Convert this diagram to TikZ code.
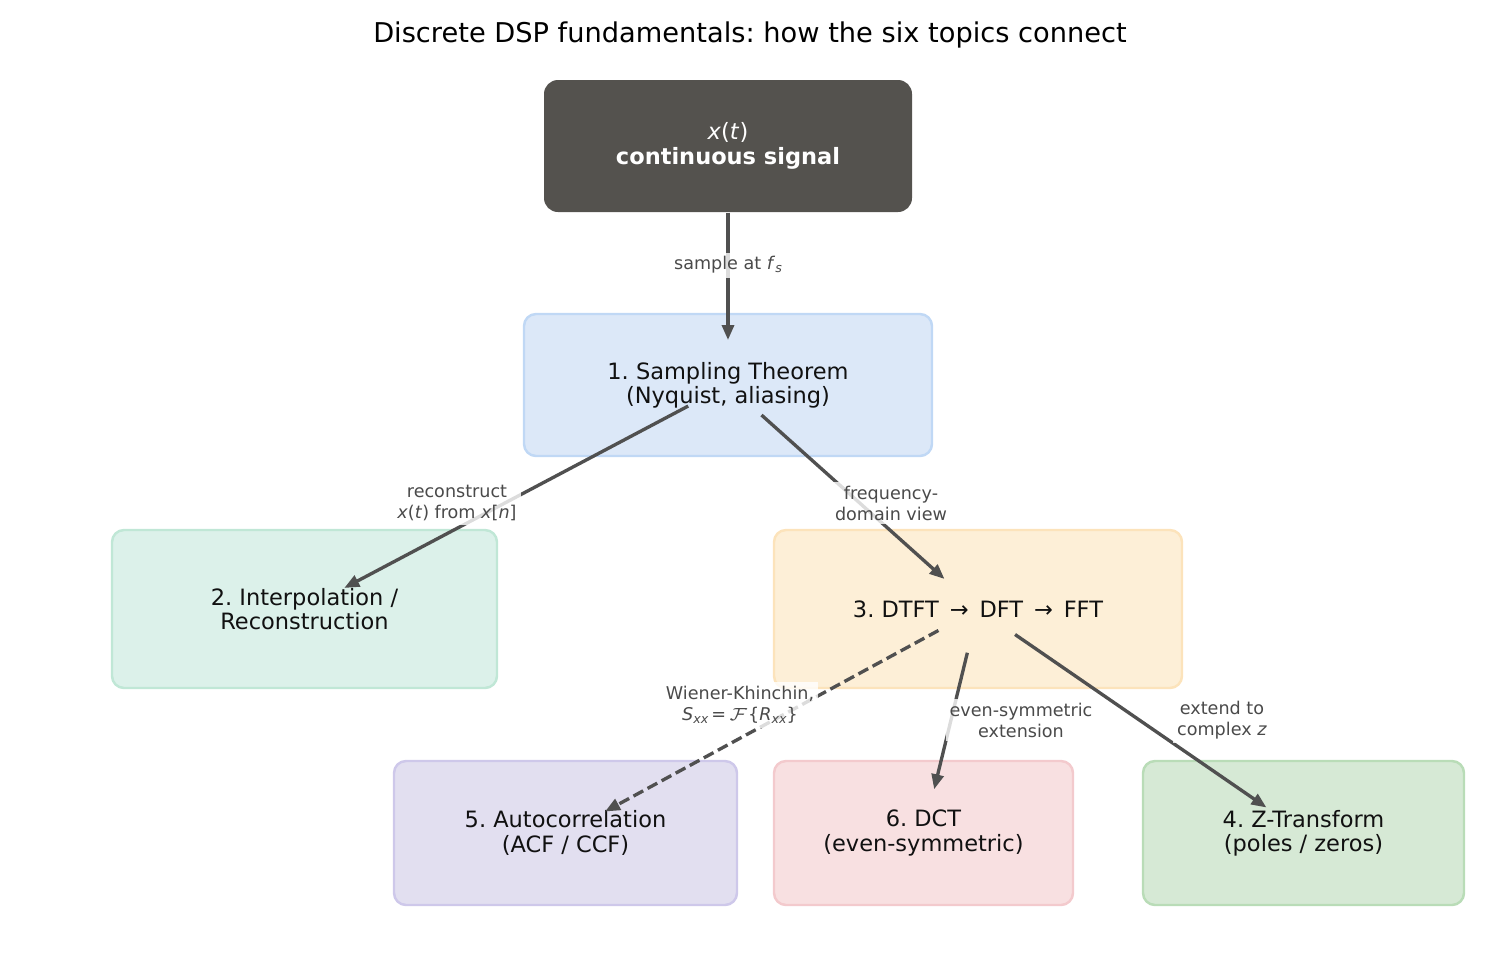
\documentclass[tikz,border=0pt]{standalone}
\usepackage{fontspec}
\setmainfont{DejaVu Sans}
\usetikzlibrary{arrows.meta,positioning,calc}
\definecolor{ink}{RGB}{17,17,17}
\definecolor{srcGrey}{RGB}{84,82,78}
\definecolor{flowGrey}{RGB}{80,80,80}
\definecolor{noteGrey}{RGB}{74,74,74}
\definecolor{tBlue}{RGB}{220,232,248}
\definecolor{tBlueEdge}{RGB}{192,216,245}
\definecolor{tMint}{RGB}{220,241,234}
\definecolor{tMintEdge}{RGB}{192,231,214}
\definecolor{tSand}{RGB}{253,239,215}
\definecolor{tSandEdge}{RGB}{252,227,187}
\definecolor{tLilac}{RGB}{226,223,240}
\definecolor{tLilacEdge}{RGB}{206,200,234}
\definecolor{tRose}{RGB}{248,224,225}
\definecolor{tRoseEdge}{RGB}{243,202,205}
\definecolor{tLeaf}{RGB}{214,233,213}
\definecolor{tLeafEdge}{RGB}{185,220,183}
\newcommand{\iv}[1]{\textit{#1}}
\newcommand{\lowsub}[1]{\raisebox{-0.3ex}{\fontsize{3.6}{4}\selectfont\textit{#1}}}
\frenchspacing

\begin{document}
\begin{tikzpicture}[
  topic/.style={draw=#1Edge,fill=#1,line width=0.7pt,rounded corners=0.12cm,
                align=center,text=ink,font=\fontsize{6.4}{6.9}\selectfont},
  note/.style={fill=white,fill opacity=0.8,text opacity=1,text=noteGrey,align=center,
               inner sep=0.04cm,font=\fontsize{5}{6}\selectfont},
  flow/.style={-{Triangle[length=0.15cm,width=0.12cm]},flowGrey,line width=0.95pt,
               shorten <=0.45cm,shorten >=0.45cm}]
  \useasboundingbox (0,0) rectangle (15,9.6);
  \node[font=\fontsize{7.75}{9}\selectfont] (title) at (7.5,9.25)
    {Discrete DSP fundamentals: how the six topics connect};
  % topic boxes
  \node[fill=srcGrey,rounded corners=0.14cm,minimum width=3.68cm,minimum height=1.32cm,
        align=center,text=white,font=\fontsize{6.4}{7.3}\selectfont] (src) at (7.28,8.14)
    {\iv{x}(\iv{t})\\\textbf{continuous signal}};
  \node[topic=tBlue,minimum width=4.08cm,minimum height=1.42cm] (samp) at (7.28,5.75)
    {1. Sampling Theorem\\(Nyquist, aliasing)};
  \node[topic=tMint,minimum width=3.85cm,minimum height=1.58cm] (interp) at (3.045,3.51)
    {2. Interpolation /\\Reconstruction};
  \node[topic=tSand,minimum width=4.08cm,minimum height=1.58cm] (dft) at (9.78,3.51)
    {3. DTFT\ \,→\ \,DFT\ \,→\ \,FFT};
  \node[topic=tLilac,minimum width=3.43cm,minimum height=1.44cm] (acf) at (5.655,1.27)
    {5. Autocorrelation\\(ACF / CCF)};
  \node[topic=tRose,minimum width=2.99cm,minimum height=1.44cm] (dct) at (9.235,1.27)
    {6. DCT\\(even-symmetric)};
  \node[topic=tLeaf,minimum width=3.21cm,minimum height=1.44cm] (zt) at (13.035,1.27)
    {4. Z-Transform\\(poles / zeros)};
  % connectors
  \draw[flow,shorten <=0pt] (src.south) -- (samp.center);
  \draw[flow] (samp.center) -- (interp.center);
  \draw[flow] (samp.center) -- (dft.center);
  \draw[flow,dash pattern=on 0.11cm off 0.05cm] (dft.center) -- (acf.center);
  \draw[flow] (dft.center) -- (dct.center);
  \draw[flow] (dft.center) -- (zt.center);
  % edge notes
  \node[note] (nSamp) at (7.28,6.95) {sample at \iv{f}\lowsub{s}};
  \node[note] (nRec) at (4.57,4.57) {reconstruct\\\iv{x}(\iv{t}) from \iv{x}[\iv{n}]};
  \node[note] (nFreq) at (8.91,4.57) {frequency-\\domain view};
  \node[note] (nWK) at (7.40,2.55)
    {Wiener-Khinchin,\\\iv{S}\lowsub{xx}\,=\,$\mathcal{F}$\{\iv{R}\lowsub{xx}\}};
  \node[note] (nEven) at (10.21,2.40) {even-symmetric\\extension};
  \node[note] (nExt) at (12.22,2.40) {extend to\\complex \iv{z}};
\end{tikzpicture}
\end{document}
